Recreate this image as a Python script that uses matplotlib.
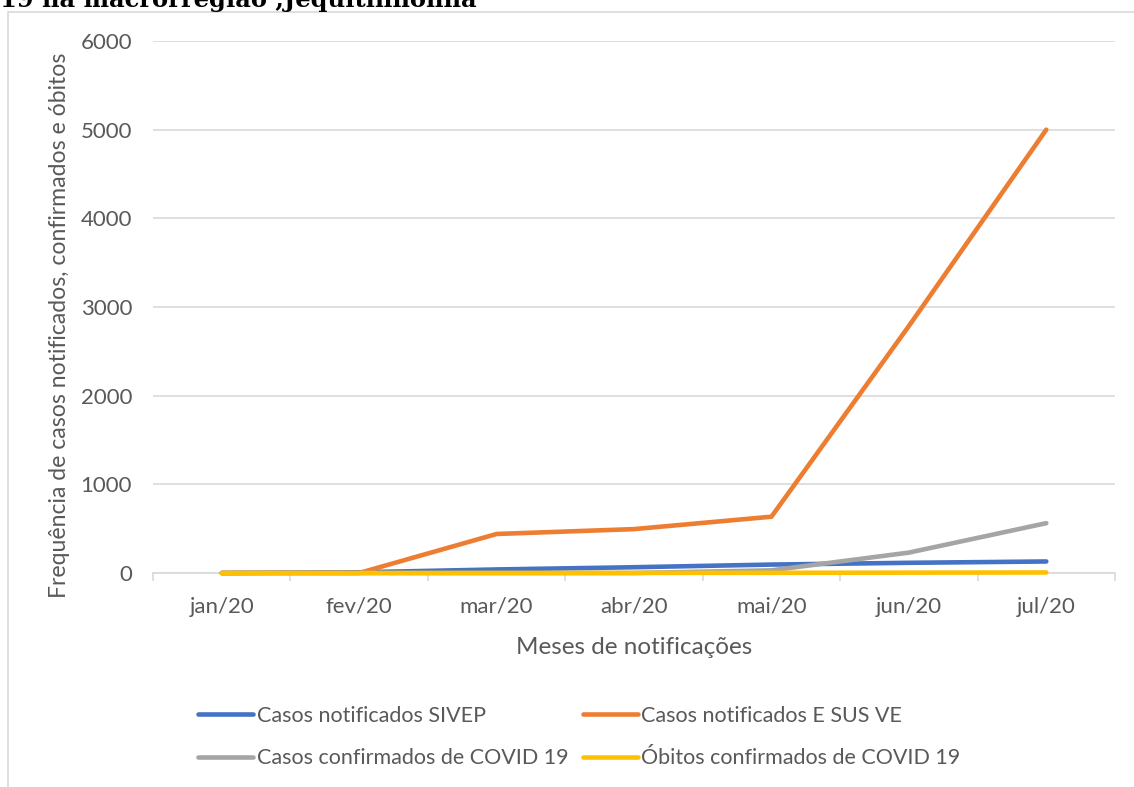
import matplotlib
matplotlib.use("Agg")
import matplotlib.pyplot as plt
from matplotlib.patches import Rectangle

# data
months = ["jan/20", "fev/20", "mar/20", "abr/20", "mai/20", "jun/20", "jul/20"]
sivep = [0, 8, 40, 65, 95, 115, 130]
esus = [0, 0, 440, 495, 635, 2785, 5000]
confirmados = [0, 0, 0, 0, 30, 230, 562]
obitos = [0, 0, 0, 1, 2, 4, 6]
series_names = ["Casos notificados SIVEP", "Casos notificados E SUS VE",
                "Casos confirmados de COVID 19", "Óbitos confirmados de COVID 19"]
colors = ["#4472C4", "#ED7D31", "#A5A5A5", "#FFC000"]

plt.rcParams['font.family'] = ['Lato', 'DejaVu Sans']
txt = "#595959"
grid = "#D9D9D9"

fig = plt.figure(figsize=(11.34, 7.87), dpi=100)
W, H = 1134, 787

# outer chart border (partly cut by the image edge)
fig.add_artist(Rectangle((8 / W, -0.01), 1.0, 1 - 12 / H + 0.01, transform=fig.transFigure,
                         fill=False, edgecolor=grid, lw=1.2))

# cut-off title above the chart
fig.text(0.0, 1 - 7 / H, "19 na macrorregião ,Jequitinhonha", family="DejaVu Serif",
         fontweight="bold", fontsize=17.4, ha="left", va="baseline", color="black")

ax = fig.add_axes([153 / W, 1 - 573 / H, (1115 - 153) / W, (573 - 41) / H])
x = list(range(len(months)))
lines = []
for vals, name, c in zip([sivep, esus, confirmados, obitos], series_names, colors):
    ln, = ax.plot(x, vals, color=c, lw=3.3, solid_capstyle="round", solid_joinstyle="round",
                  label=name, clip_on=False, zorder=3)
    lines.append(ln)

ax.set_xlim(-0.5, len(months) - 0.5)
ax.set_ylim(0, 6000)
ax.set_yticks(range(0, 6001, 1000))
ax.yaxis.grid(True, color=grid, lw=1.2)
ax.set_axisbelow(True)
for s in ["top", "right", "left"]:
    ax.spines[s].set_visible(False)
ax.spines["bottom"].set_color(grid)
ax.spines["bottom"].set_linewidth(1.2)
ax.spines["bottom"].set_zorder(1)
ax.set_xticks(x)
ax.set_xticklabels(months)
ax.set_xticks([i - 0.5 for i in range(len(months) + 1)], minor=True)
ax.tick_params(axis="x", which="major", length=0, pad=17, labelsize=16, colors=txt)
ax.tick_params(axis="x", which="minor", length=6, width=1.2, color=grid)
ax.tick_params(axis="y", length=0, pad=15, labelsize=16, colors=txt)

ax.set_xlabel("Meses de notificações", fontsize=17.5, color=txt, labelpad=15)
ax.set_ylabel("Frequência de casos notificados, confirmados e óbitos", fontsize=16.6, color=txt)
ax.yaxis.set_label_coords(-0.086, 0.466)

# legend filled row by row like the original
order = [0, 2, 1, 3]
leg = fig.legend([lines[i] for i in order], [series_names[i] for i in order],
                 loc="center", bbox_to_anchor=(0.511, 1 - 737 / H), ncol=2, frameon=False,
                 fontsize=15.5, handlelength=2.55, handletextpad=0.15, columnspacing=0.7,
                 labelspacing=1.05)
for t in leg.get_texts():
    t.set_color(txt)

fig.savefig("out.png", dpi=100)
